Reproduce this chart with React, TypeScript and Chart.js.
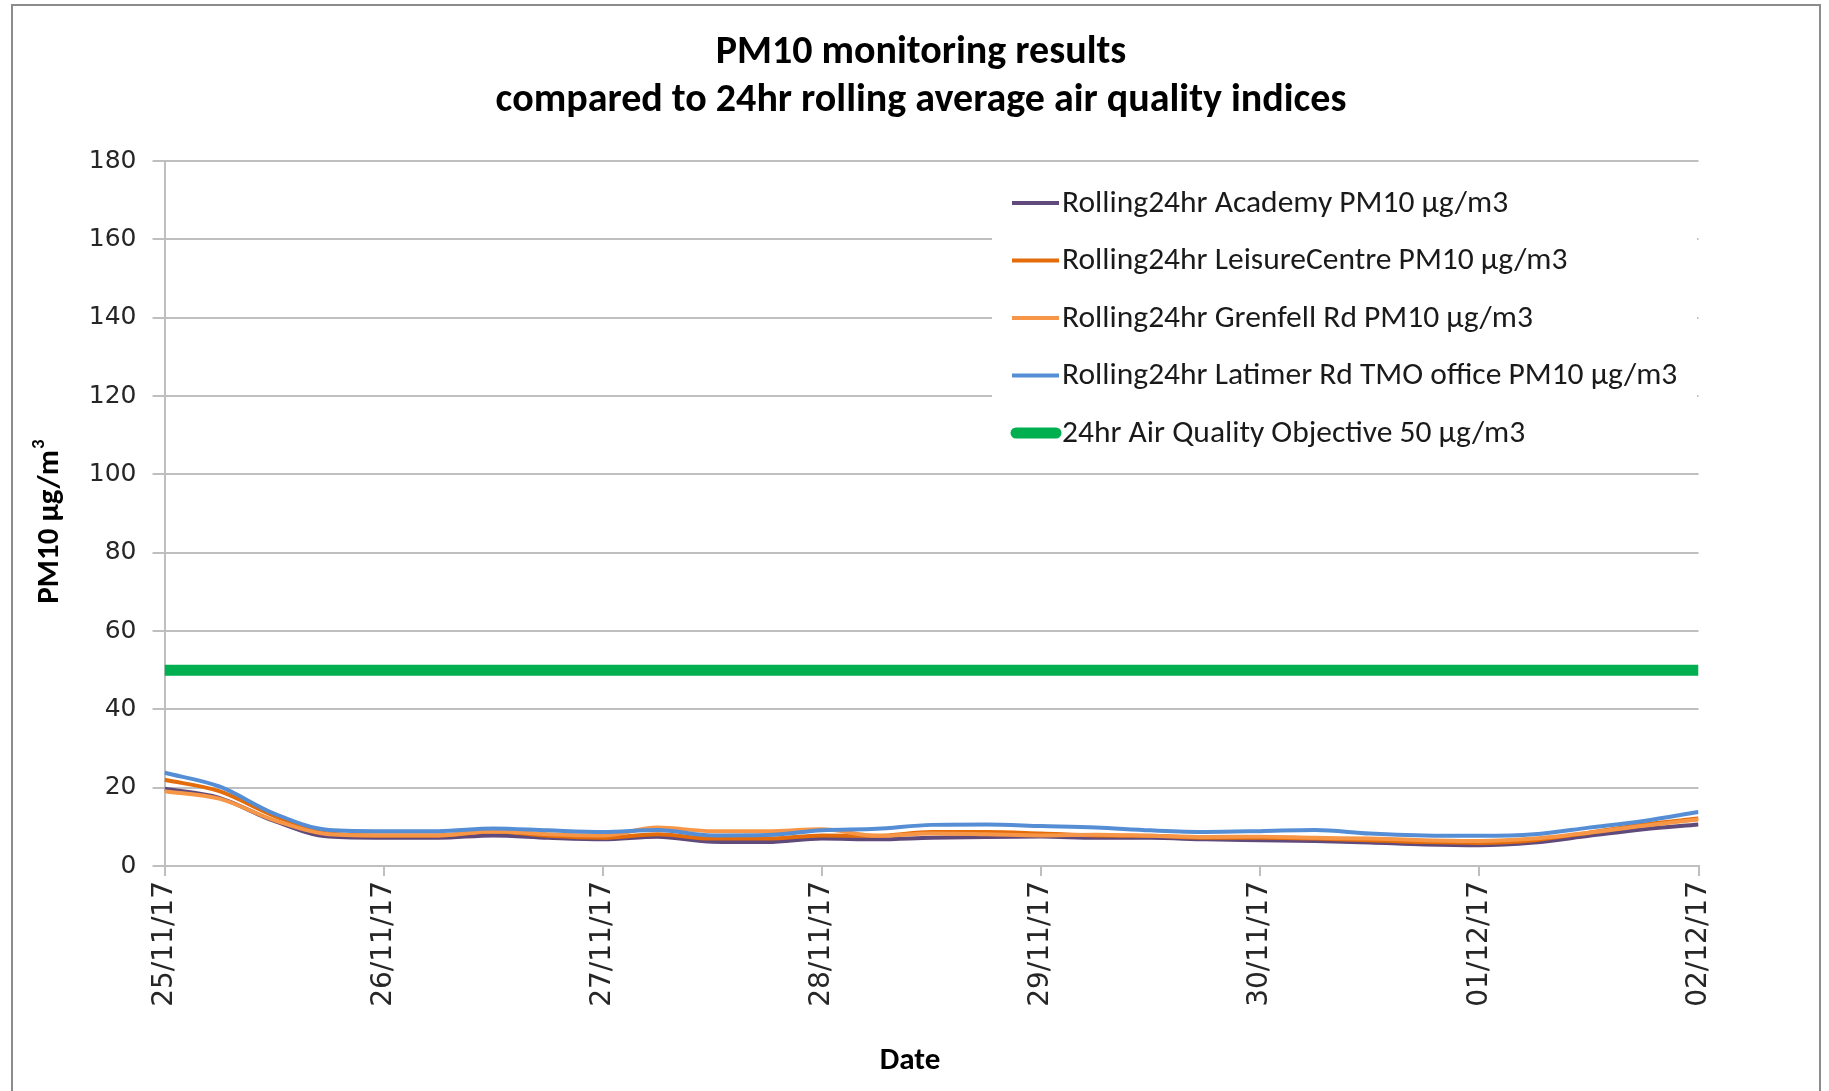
import React, { useEffect, useRef } from 'react';
import { Chart, registerables } from 'chart.js';

Chart.register(...registerables);

// ---- data ----
const dayOffsets = [0, 0.25, 0.5, 0.75, 1, 1.25, 1.5, 1.75, 2, 2.25, 2.5, 2.75, 3, 3.25, 3.5, 3.75, 4, 4.25, 4.5, 4.75, 5, 5.25, 5.5, 5.75, 6, 6.25, 6.5, 6.75, 7];
const academy = [19.7, 17.4, 11.5, 7.5, 7.2, 7.2, 7.8, 7.2, 6.8, 7.5, 6.2, 6.1, 7.0, 6.8, 7.2, 7.4, 7.5, 7.2, 7.2, 6.8, 6.6, 6.4, 6.0, 5.5, 5.3, 6.0, 7.7, 9.4, 10.6];
const leisureCentre = [22.0, 19.1, 12.8, 8.3, 7.8, 7.8, 8.8, 7.7, 7.2, 8.1, 7.0, 7.0, 7.8, 7.7, 8.7, 8.7, 8.3, 7.8, 7.7, 7.2, 7.2, 7.0, 6.6, 6.1, 5.9, 6.6, 8.5, 10.6, 12.1];
const grenfell = [19.1, 17.2, 11.7, 8.1, 7.8, 7.8, 8.9, 8.1, 7.8, 9.8, 8.9, 8.9, 9.4, 7.7, 8.3, 8.1, 7.8, 8.0, 7.7, 7.4, 7.5, 7.2, 7.0, 6.6, 6.4, 7.0, 8.5, 10.3, 11.9];
const latimer = [23.8, 20.3, 13.4, 9.2, 8.9, 8.9, 9.6, 9.1, 8.7, 9.2, 7.8, 7.9, 9.1, 9.5, 10.5, 10.6, 10.2, 9.8, 9.1, 8.7, 8.9, 9.2, 8.3, 7.8, 7.7, 8.1, 9.8, 11.5, 13.8];
const objectiveDays = [0, 7];
const objectiveValues = [50, 50];
const dateLabels = ['25/11/17', '26/11/17', '27/11/17', '28/11/17', '29/11/17', '30/11/17', '01/12/17', '02/12/17'];
const seriesLabels = [
  'Rolling24hr Academy PM10 µg/m3',
  'Rolling24hr LeisureCentre PM10 µg/m3',
  'Rolling24hr Grenfell Rd PM10 µg/m3',
  'Rolling24hr Latimer Rd TMO office PM10 µg/m3',
  '24hr Air Quality Objective 50 µg/m3',
];
const titleLines = ['PM10 monitoring results', 'compared to 24hr rolling average air quality indices'];
const yTitle = 'PM10 µg/m';
const yTitleSup = '3';
const xTitle = 'Date';
const yMin = 0;
const yMax = 180;
const yStep = 20;

const W = 1829;
const H = 1091;
const CAL = 'Carlito, Lato, "Open Sans", sans-serif';
const TICKFONT = '"DejaVu Sans", sans-serif';

const pts = (xs: number[], ys: number[]) => xs.map((x, i) => ({ x, y: ys[i] }));

const decor = {
  id: 'decor',
  beforeDraw(chart: any) {
    const ctx = chart.ctx;
    ctx.save();
    ctx.fillStyle = '#ffffff';
    ctx.fillRect(0, 0, W, H);
    ctx.strokeStyle = '#8c8c8c';
    ctx.lineWidth = 2;
    ctx.strokeRect(12, 5, 1808, 1200);
    ctx.restore();
  },
  afterDraw(chart: any) {
    const ctx = chart.ctx;
    ctx.save();
    // title
    ctx.fillStyle = '#000';
    ctx.textAlign = 'center';
    ctx.textBaseline = 'middle';
    ctx.font = `bold 40px ${CAL}`;
    ctx.fillText(titleLines[0], 921, 53);
    ctx.fillText(titleLines[1], 921, 101);
    // x title
    ctx.font = `bold 31px ${CAL}`;
    ctx.fillText(xTitle, 910, 1061);
    // y title
    ctx.save();
    ctx.translate(50, 522);
    ctx.rotate(-Math.PI / 2);
    ctx.font = `bold 31px ${CAL}`;
    const w1 = ctx.measureText(yTitle).width;
    ctx.font = `bold 19px ${CAL}`;
    const w2 = ctx.measureText(yTitleSup).width;
    const start = -(w1 + w2) / 2;
    ctx.textAlign = 'left';
    ctx.font = `bold 31px ${CAL}`;
    ctx.fillText(yTitle, start, 0);
    ctx.font = `bold 19px ${CAL}`;
    ctx.fillText(yTitleSup, start + w1 + 1, -11);
    ctx.restore();
    // legend
    ctx.fillStyle = '#ffffff';
    ctx.fillRect(992, 176, 705, 282);
    const ds = chart.data.datasets;
    ctx.font = `31.5px ${CAL}`;
    ctx.textAlign = 'left';
    ctx.textBaseline = 'middle';
    ds.forEach((d: any, i: number) => {
      const y = 203 + i * 57.5;
      ctx.strokeStyle = d.borderColor;
      ctx.lineWidth = d.borderWidth;
      ctx.lineCap = d.borderWidth > 6 ? 'round' : 'butt';
      ctx.beginPath();
      ctx.moveTo(d.borderWidth > 6 ? 1016 : 1012, y);
      ctx.lineTo(d.borderWidth > 6 ? 1056 : 1059, y);
      ctx.stroke();
      ctx.fillStyle = '#1a1a1a';
      ctx.fillText(d.label, 1062, y + 1);
    });
    ctx.restore();
  },
};

export default function App() {
  const ref = useRef<HTMLCanvasElement>(null);
  useEffect(() => {
    if (!ref.current) return;
    const chart = new Chart(ref.current, {
      type: 'line',
      data: {
        datasets: [
          { label: seriesLabels[0], data: pts(dayOffsets, academy), borderColor: '#604A7B', borderWidth: 4, order: 5 },
          { label: seriesLabels[1], data: pts(dayOffsets, leisureCentre), borderColor: '#E46C0A', borderWidth: 4, order: 4 },
          { label: seriesLabels[2], data: pts(dayOffsets, grenfell), borderColor: '#F79646', borderWidth: 4, order: 3 },
          { label: seriesLabels[3], data: pts(dayOffsets, latimer), borderColor: '#558ED5', borderWidth: 4, order: 2 },
          { label: seriesLabels[4], data: pts(objectiveDays, objectiveValues), borderColor: '#00B050', borderWidth: 11, order: 1 },
        ] as any,
      },
      options: {
        responsive: false,
        animation: false,
        devicePixelRatio: 1,
        layout: { padding: { left: 0, top: 161, right: 130.5, bottom: 0 } },
        elements: {
          point: { radius: 0, hoverRadius: 0 },
          line: { cubicInterpolationMode: 'monotone', fill: false, borderCapStyle: 'butt' },
        },
        plugins: { legend: { display: false }, title: { display: false }, tooltip: { enabled: false } },
        scales: {
          x: {
            type: 'linear',
            min: 0,
            max: 7,
            afterFit: (s: any) => { s.height = H - 866; },
            afterBuildTicks: (s: any) => { s.ticks = dateLabels.map((_, i) => ({ value: i })); },
            ticks: {
              autoSkip: false,
              minRotation: 90,
              maxRotation: 90,
              padding: 5,
              color: '#262626',
              font: { family: TICKFONT, size: 28 },
              callback: (v: any) => dateLabels[Math.round(Number(v))],
            },
            grid: { drawOnChartArea: false, drawTicks: true, tickLength: 10, color: '#bfbfbf', lineWidth: 2 },
            border: { display: true, color: '#bfbfbf', width: 2 },
          },
          y: {
            type: 'linear',
            min: yMin,
            max: yMax,
            afterFit: (s: any) => { s.width = 164.5; },
            ticks: {
              stepSize: yStep,
              padding: 16,
              color: '#262626',
              font: { family: TICKFONT, size: 25 },
            },
            grid: { color: '#bfbfbf', lineWidth: 2, tickLength: 12, drawTicks: true },
            border: { display: true, color: '#bfbfbf', width: 2 },
          },
        },
      },
      plugins: [decor],
    } as any);
    return () => chart.destroy();
  }, []);
  return (
    <div style={{ position: 'absolute', left: 0, top: 0, width: W, height: H, background: '#fff' }}>
      <canvas ref={ref} width={W} height={H} style={{ display: 'block', width: W, height: H }} />
    </div>
  );
}
